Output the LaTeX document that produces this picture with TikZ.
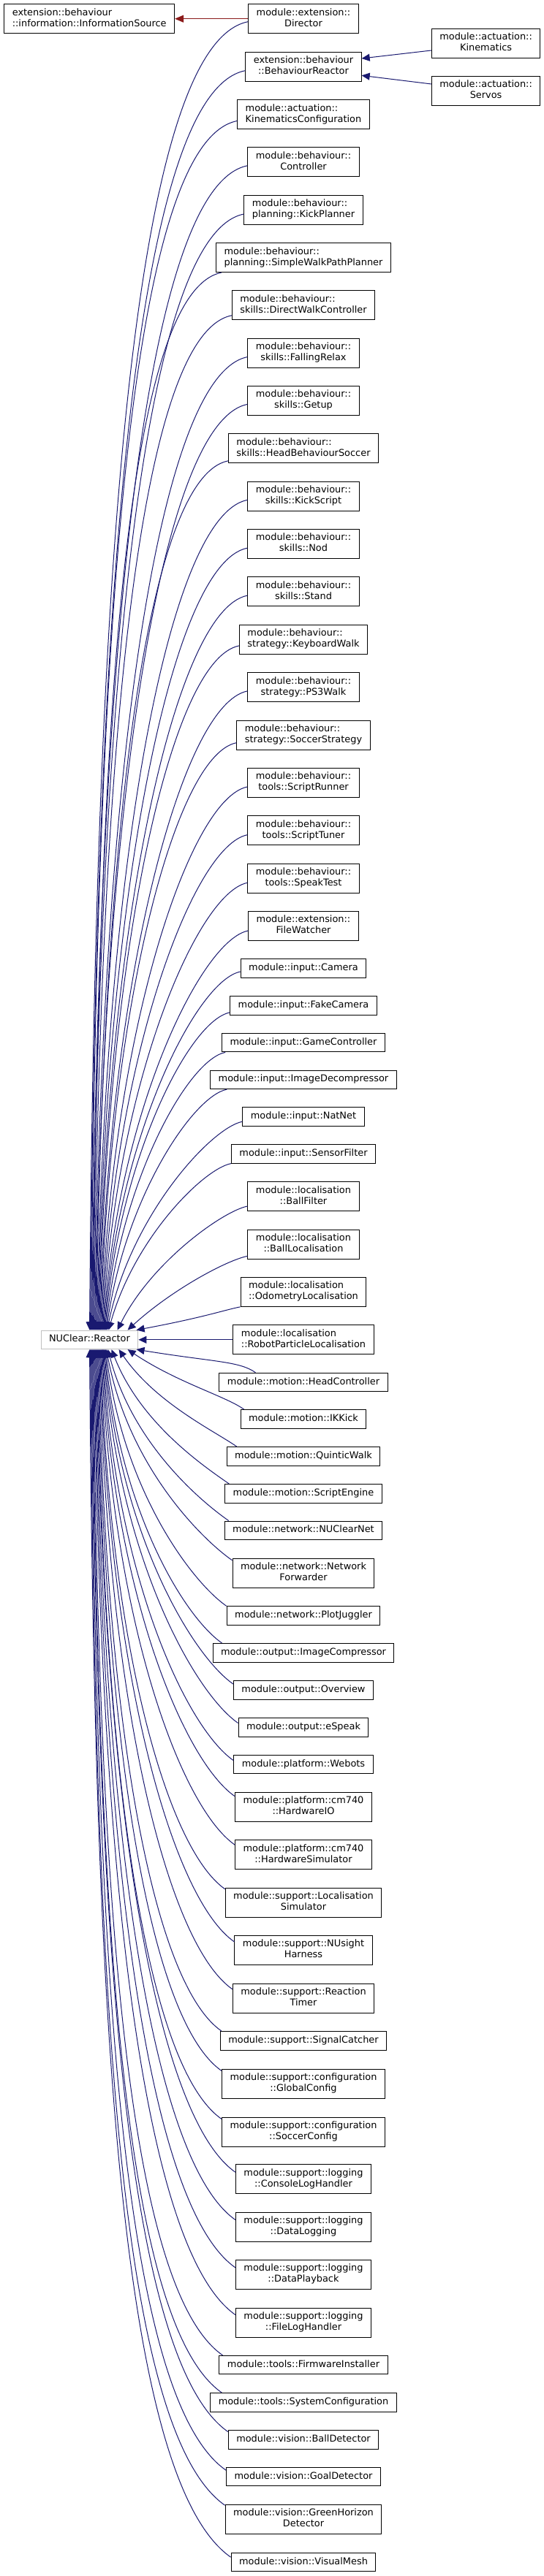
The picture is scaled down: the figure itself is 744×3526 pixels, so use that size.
\documentclass[tikz,border=0pt]{standalone}
\usepackage{fontspec}
\setmainfont{DejaVu Sans}
\usetikzlibrary{arrows.meta,calc}
\definecolor{edgeblue}{HTML}{191970}
\definecolor{edgered}{HTML}{8B1A1A}
\definecolor{greyline}{HTML}{BFBFBF}
\newcommand\dlab[2]{%
  \setbox0=\hbox{#1}\setbox2=\hbox{#2}%
  \ifdim\wd0>\wd2 \dimen0=\wd0 \else\dimen0=\wd2 \fi
  \vbox{\hbox to\dimen0{\strut#1\hfil}\hbox to\dimen0{\hfil\strut#2\hfil}}}
\tikzset{
  cls/.style={draw=black, line width=1pt, fill=white, inner xsep=11pt, inner ysep=0pt,
    font=\fontsize{12.9}{15}\selectfont, execute at begin node=\strut},
  two/.style={cls, minimum height=40pt},
  one/.style={cls, minimum height=25.6pt},
  inh/.style={draw=edgeblue, line width=1pt, -{Triangle[length=11pt,width=10pt]}},
  priv/.style={draw=edgered, line width=1pt, -{Triangle[length=12pt,width=10pt]}},
}
\newcommand\upedge[5]{\draw[inh] let \p1=($(#1.#2)+(#3,#4)$), \p2=($(R.north west)+(#5,0)$),
  \n1={abs(\y1-\y2)}, \n2={0.08*\n1+20}, \n3={60/(\n1+60)} in
  (\p1) .. controls ($(\p1)+(-\n2,-0.2*\n2)$) and ($(\p2)+({\n3*(\x1-\x2)},{0.55*\n1})$) .. (\p2);}
\newcommand\downedge[5]{\draw[inh] let \p1=($(#1.#2)+(#3,#4)$), \p2=($(R.south west)+(#5,0)$),
  \n1={abs(\y1-\y2)}, \n2={0.08*\n1+20}, \n3={60/(\n1+60)} in
  (\p1) .. controls ($(\p1)+(-\n2,0.7*\n2)$) and ($(\p2)+({\n3*(\x1-\x2)},{-0.55*\n1})$) .. (\p2);}
\begin{document}
\begin{tikzpicture}[x=1pt,y=1pt]
\fill[white] (0,0) rectangle (744,-3526);
\useasboundingbox (0,0) rectangle (744,-3526);
% left column
\node[two] (IS) at (122.2,-25.7) {\dlab{extension::behaviour}{::information::InformationSource}};
\node[one, draw=greyline] (R) at (122.5,-1833.8) {NUClear::Reactor};
% right column
\node[two] (Kin) at (664.6,-59) {\dlab{module::actuation::}{Kinematics}};
\node[two] (Srv) at (664.6,-124.3) {\dlab{module::actuation::}{Servos}};
% middle column
\node[two] (Dir) at (415,-25.7) {\dlab{module::extension::}{Director}};
\node[two] (BR) at (415,-91) {\dlab{extension::behaviour}{::BehaviourReactor}};
\node[two] (KC) at (415,-156.5) {\dlab{module::actuation::}{KinematicsConfiguration}};
\node[two] (Ctl) at (415,-221.8) {\dlab{module::behaviour::}{Controller}};
\node[two] (KP) at (415,-287) {\dlab{module::behaviour::}{planning::KickPlanner}};
\node[two] (SWP) at (415,-352.5) {\dlab{module::behaviour::}{planning::SimpleWalkPathPlanner}};
\node[two] (DWC) at (415,-417.8) {\dlab{module::behaviour::}{skills::DirectWalkController}};
\node[two] (FR) at (415,-483) {\dlab{module::behaviour::}{skills::FallingRelax}};
\node[two] (GU) at (415,-548.4) {\dlab{module::behaviour::}{skills::Getup}};
\node[two] (HBS) at (415,-613.8) {\dlab{module::behaviour::}{skills::HeadBehaviourSoccer}};
\node[two] (KS) at (415,-679) {\dlab{module::behaviour::}{skills::KickScript}};
\node[two] (Nod) at (415,-744.4) {\dlab{module::behaviour::}{skills::Nod}};
\node[two] (Std) at (415,-809.8) {\dlab{module::behaviour::}{skills::Stand}};
\node[two] (KW) at (415,-875.2) {\dlab{module::behaviour::}{strategy::KeyboardWalk}};
\node[two] (PSW) at (415,-940.6) {\dlab{module::behaviour::}{strategy::PS3Walk}};
\node[two] (SS) at (415,-1006) {\dlab{module::behaviour::}{strategy::SoccerStrategy}};
\node[two] (SR) at (415,-1071.3) {\dlab{module::behaviour::}{tools::ScriptRunner}};
\node[two] (STu) at (415,-1136.7) {\dlab{module::behaviour::}{tools::ScriptTuner}};
\node[two] (SpT) at (415,-1202) {\dlab{module::behaviour::}{tools::SpeakTest}};
\node[two] (FW) at (415,-1267.3) {\dlab{module::extension::}{FileWatcher}};
\node[one] (Cam) at (415,-1325.5) {module::input::Camera};
\node[one] (FCam) at (415,-1376.5) {module::input::FakeCamera};
\node[one] (GC) at (415,-1427.1) {module::input::GameController};
\node[one] (ID) at (415,-1477.8) {module::input::ImageDecompressor};
\node[one] (NN) at (415,-1528.5) {module::input::NatNet};
\node[one] (SF) at (415,-1579.3) {module::input::SensorFilter};
\node[two] (BF) at (415,-1637.7) {\dlab{module::localisation}{::BallFilter}};
\node[two] (BL) at (415,-1703) {\dlab{module::localisation}{::BallLocalisation}};
\node[two] (OL) at (415,-1768.3) {\dlab{module::localisation}{::OdometryLocalisation}};
\node[two] (RPL) at (415,-1833.8) {\dlab{module::localisation}{::RobotParticleLocalisation}};
\node[one] (HC) at (415,-1892) {module::motion::HeadController};
\node[one] (IK) at (415,-1942.3) {module::motion::IKKick};
\node[one] (QW) at (415,-1993.3) {module::motion::QuinticWalk};
\node[one] (SE) at (415,-2044.3) {module::motion::ScriptEngine};
\node[one] (NCN) at (415,-2094.8) {module::network::NUClearNet};
\node[two] (NF) at (415,-2153.2) {\dlab{module::network::Network}{Forwarder}};
\node[one] (PJ) at (415,-2211.6) {module::network::PlotJuggler};
\node[one] (IC) at (415,-2262.3) {module::output::ImageCompressor};
\node[one] (OV) at (415,-2313.4) {module::output::Overview};
\node[one] (ES) at (415,-2364.3) {module::output::eSpeak};
\node[one] (WB) at (415,-2415) {module::platform::Webots};
\node[two] (HIO) at (415,-2473.2) {\dlab{module::platform::cm740}{::HardwareIO}};
\node[two] (HS) at (415,-2538.6) {\dlab{module::platform::cm740}{::HardwareSimulator}};
\node[two] (LS) at (415,-2604.2) {\dlab{module::support::Localisation}{Simulator}};
\node[two] (NH) at (415,-2669.4) {\dlab{module::support::NUsight}{Harness}};
\node[two] (RT) at (415,-2735) {\dlab{module::support::Reaction}{Timer}};
\node[one] (SC) at (415,-2793.3) {module::support::SignalCatcher};
\node[two] (GCf) at (415,-2852) {\dlab{module::support::configuration}{::GlobalConfig}};
\node[two] (SCf) at (415,-2918) {\dlab{module::support::configuration}{::SoccerConfig}};
\node[two] (CLH) at (415,-2982.8) {\dlab{module::support::logging}{::ConsoleLogHandler}};
\node[two] (DL) at (415,-3048) {\dlab{module::support::logging}{::DataLogging}};
\node[two] (DP) at (415,-3113.4) {\dlab{module::support::logging}{::DataPlayback}};
\node[two] (FLH) at (415,-3179) {\dlab{module::support::logging}{::FileLogHandler}};
\node[one] (FI) at (415,-3237.1) {module::tools::FirmwareInstaller};
\node[one] (SyC) at (415,-3288.3) {module::tools::SystemConfiguration};
\node[one] (BD) at (415,-3339.3) {module::vision::BallDetector};
\node[one] (GD) at (415,-3390) {module::vision::GoalDetector};
\node[two] (GH) at (415,-3448.2) {\dlab{module::vision::GreenHorizon}{Detector}};
\node[one] (VM) at (415,-3507.1) {module::vision::VisualMesh};
% top edges
\draw[priv] (Dir.west) -- (IS.east);
\draw[inh] ($(Kin.west)+(0,-10)$) -- ($(BR.east)+(0,11)$);
\draw[inh] ($(Srv.west)+(0,9.3)$) -- ($(BR.east)+(0,-12.3)$);
% edges to the reactor from above
\upedge{Dir}{west}{0}{-4}{67}
\upedge{BR}{west}{0}{-5.7}{68}
\upedge{KC}{west}{0}{-9}{69}
\upedge{Ctl}{west}{0}{-5}{70}
\upedge{KP}{west}{0}{-6}{71}
\upedge{SWP}{south west}{8}{0}{72}
\upedge{DWC}{west}{0}{-14}{73}
\upedge{FR}{west}{0}{-5.6}{74}
\upedge{GU}{west}{0}{-5}{75}
\upedge{HBS}{west}{0}{-17}{76}
\upedge{KS}{west}{0}{-5.3}{77}
\upedge{Nod}{west}{0}{-5.7}{78}
\upedge{Std}{west}{0}{-5.3}{79}
\upedge{KW}{west}{0}{-8.7}{80}
\upedge{PSW}{west}{0}{-5.3}{81}
\upedge{SS}{west}{0}{-10.7}{82}
\upedge{SR}{west}{0}{-5.7}{83}
\upedge{STu}{west}{0}{-6}{84}
\upedge{SpT}{west}{0}{-6.3}{85}
\upedge{FW}{west}{0}{-6.7}{86}
\upedge{Cam}{west}{0}{-4.5}{87}
\upedge{FCam}{west}{0}{-9.4}{88}
\upedge{GC}{south west}{5}{0}{89}
\upedge{ID}{south west}{23}{0}{90}
\upedge{NN}{west}{0}{-6.7}{91}
\upedge{SF}{south west}{0}{0}{93}
\upedge{BF}{west}{0}{-13.3}{105}
\upedge{BL}{west}{0}{-16.3}{119}
\upedge{OL}{south west}{0}{0}{131}
\draw[inh] (RPL) -- (R);
% edges to the reactor from below
\downedge{HC}{north west}{50}{0}{131}
\downedge{IK}{north west}{5}{0}{119}
\downedge{QW}{north west}{14}{0}{107}
\downedge{SE}{north west}{6}{0}{97}
\downedge{NCN}{north west}{6}{0}{92}
\downedge{NF}{north west}{0}{-3}{90}
\downedge{PJ}{north west}{0}{0}{89}
\downedge{IC}{north west}{13}{0}{88}
\downedge{OV}{north west}{0}{-5}{87}
\downedge{ES}{north west}{0}{-7.5}{86}
\downedge{WB}{north west}{0}{-8}{85}
\downedge{HIO}{north west}{0}{-6}{84}
\downedge{HS}{north west}{0}{-7}{83}
\downedge{LS}{north west}{0}{-2}{82}
\downedge{NH}{north west}{0}{-9}{81}
\downedge{RT}{north west}{0}{-8.3}{80}
\downedge{SC}{north west}{2}{0}{79}
\downedge{GCf}{north west}{0}{-3}{78}
\downedge{SCf}{north west}{0}{-3}{77}
\downedge{CLH}{north west}{0}{-11}{76}
\downedge{DL}{north west}{0}{-11}{75}
\downedge{DP}{north west}{0}{-11}{74}
\downedge{FLH}{north west}{0}{-10}{73}
\downedge{FI}{north west}{5}{0}{72}
\downedge{SyC}{north west}{16}{0}{71}
\downedge{BD}{north west}{0}{-2.5}{70}
\downedge{GD}{north west}{0}{-4.5}{69}
\downedge{GH}{north west}{0}{-1.5}{68}
\downedge{VM}{north west}{0}{-6.4}{67}
\end{tikzpicture}
\end{document}
